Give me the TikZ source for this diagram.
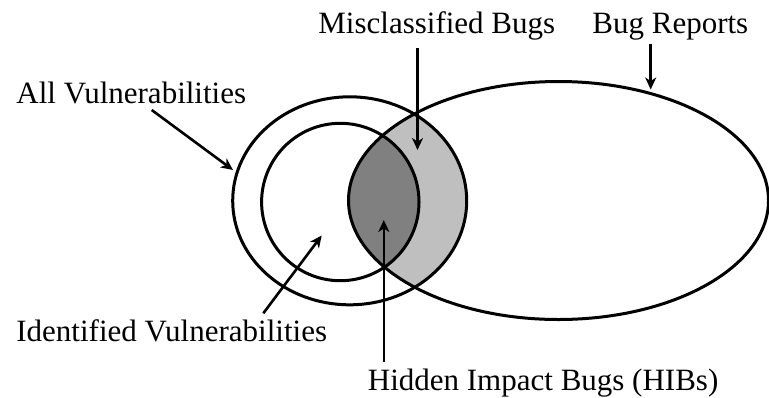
\documentclass[tikz,border=0pt]{standalone}
\usepackage{fontspec}
\setmainfont{Liberation Serif}
\usetikzlibrary{arrows.meta}
\begin{document}
\begin{tikzpicture}[x=0.5pt,y=-0.5pt,
  lbl/.style={inner sep=0pt,anchor=base west,font=\fontsize{15.5}{18}\selectfont},
  outline/.style={line width=1.5pt},
  arr/.style={line width=1.3pt,-{Stealth[length=6pt,width=5.5pt,inset=1.8pt]}}]
\useasboundingbox (0,0) rectangle (769,397);
% shading
\begin{scope}
  \clip (558.5,200.5) ellipse [x radius=210, y radius=119];
  \fill[black!25] (349.7,200.8) ellipse [x radius=117, y radius=104];
  \fill[black!50] (340.3,202) circle [radius=78.7];
\end{scope}
% outlines
\draw[outline] (349.7,200.8) ellipse [x radius=117, y radius=104];
\draw[outline] (340.3,202) circle [radius=78.7];
\draw[outline] (558.5,200.5) ellipse [x radius=210, y radius=119];
% labels
\node[lbl] (allv) at (16,103.3) {All Vulnerabilities};
\node[lbl] (idv) at (16,341.7) {Identified Vulnerabilities};
\node[lbl] (misc) at (318,33) {Misclassified Bugs};
\node[lbl] (bugr) at (592,33) {Bug Reports};
\node[lbl] (hib) at (367.5,390) {Hidden Impact Bugs (HIBs)};
% arrow ends
\coordinate (a1s) at (151.7,110);  \coordinate (a1e) at (233,170);
\coordinate (a2s) at (263.3,313.3); \coordinate (a2e) at (321.7,235.5);
\coordinate (a3s) at (417.5,48);   \coordinate (a3e) at (417.5,150);
\coordinate (a4s) at (650.7,43.5); \coordinate (a4e) at (650.7,89.5);
\coordinate (a5s) at (383.8,362);  \coordinate (a5e) at (383.8,220);
\draw[arr] (a1s) -- (a1e);
\draw[arr] (a2s) -- (a2e);
\draw[arr] (a3s) -- (a3e);
\draw[arr] (a4s) -- (a4e);
\draw[arr] (a5s) -- (a5e);
\end{tikzpicture}
\end{document}
